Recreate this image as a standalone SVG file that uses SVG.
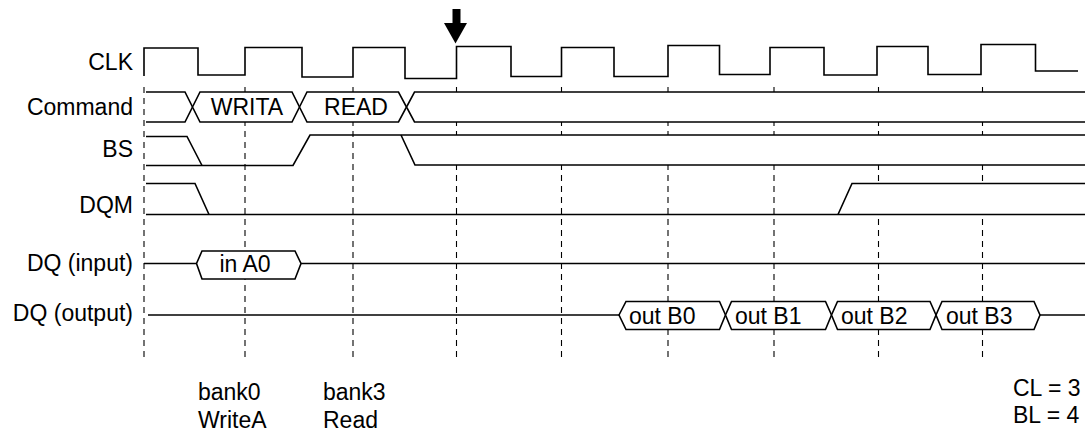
<svg xmlns="http://www.w3.org/2000/svg" width="1085" height="433" viewBox="0 0 1085 433">
  <style>
    .lbl { font-family: "Liberation Sans", Arial, sans-serif; font-size: 23px; fill: #000; }
    .end { text-anchor: end; }
    .mid { text-anchor: middle; }
    .sig { fill: none; stroke: #000; stroke-width: 1.6; stroke-linejoin: miter; }
    .bus { fill: #fff; stroke: #000; stroke-width: 1.6; }
    .fillw { fill: #fff; stroke: none; }
    .grid { stroke: #000; stroke-width: 1.1; stroke-dasharray: 6 5; fill: none; }
  </style>
  <rect width="1085" height="433" fill="#fff"/>

  <g id="connectors">
    <line class="grid" x1="144" y1="87" x2="144" y2="358"/>
    <line class="grid" x1="245" y1="87" x2="245" y2="362"/>
    <line class="grid" x1="353" y1="87" x2="353" y2="358"/>
    <line class="grid" x1="456.5" y1="87" x2="456.5" y2="358"/>
    <line class="grid" x1="561.5" y1="87" x2="561.5" y2="358"/>
    <line class="grid" x1="668" y1="87" x2="668" y2="358"/>
    <line class="grid" x1="774" y1="87" x2="774" y2="358"/>
    <line class="grid" x1="878.5" y1="87" x2="878.5" y2="358"/>
    <line class="grid" x1="982.5" y1="87" x2="982.5" y2="358"/>
  </g>

  <g id="clk">
    <text class="lbl end" x="133" y="70">CLK</text>
    <path class="sig" d="M144,76 V48 H198 V75 H245 V47.5 H302 V77 H353 V47.5 H405 V78.5 H456.5 V46.5 H511 V76.5 H561.5 V47.5 H614 V76.5 H668 V45.5 H719.5 V74.5 H770 V47.5 H824 V75 H877 V46.5 H928 V74.5 H981 V44.5 H1035.5 V71 H1078"/>
    <rect x="452.5" y="9" width="8" height="15" fill="#000"/>
    <polygon points="444,23 467,23 455.5,43.5" fill="#000"/>
  </g>

  <g id="command">
    <text class="lbl end" x="133" y="115">Command</text>
    <polygon class="fillw" points="146,92 185,92 192.5,107 185,122 146,122"/>
    <path class="sig" d="M146,92 H185 L192.5,107 L185,122 H146"/>
    <polygon class="bus" points="192.5,107 200,92 292,92 299.5,107 292,122 200,122"/>
    <polygon class="bus" points="299.5,107 307,92 398.5,92 406.5,107 398.5,122 307,122"/>
    <polygon class="fillw" points="406.5,107 414.5,92 1085,92 1085,122 414.5,122"/>
    <path class="sig" d="M1085,92 H414.5 L406.5,107 L414.5,122 H1085"/>
    <text class="lbl mid" x="247" y="115">WRITA</text>
    <text class="lbl mid" x="356" y="115">READ</text>
  </g>

  <g id="bs">
    <text class="lbl end" x="133" y="157">BS</text>
    <polygon class="fillw" points="146,136.5 187,136.5 202,165.5 146,165.5"/>
    <polygon class="fillw" points="401,135 1085,135 1085,165 415,165"/>
    <path class="sig" d="M146,136.5 H187 L202,165.5"/>
    <path class="sig" d="M146,165.5 H293 L310,135 H1085"/>
    <path class="sig" d="M401,135 L415,165 H1085"/>
  </g>

  <g id="dqm">
    <text class="lbl end" x="133" y="213">DQM</text>
    <polygon class="fillw" points="146,183.5 195,183.5 209,214.5 146,214.5"/>
    <polygon class="fillw" points="838,214.5 852,183.5 1085,183.5 1085,214.5"/>
    <path class="sig" d="M146,183.5 H195 L209,214.5"/>
    <path class="sig" d="M146,214.5 H1085"/>
    <path class="sig" d="M838,214.5 L852,183.5 H1085"/>
  </g>

  <g id="dq-input">
    <text class="lbl end" x="133" y="271">DQ (input)</text>
    <path class="sig" d="M144,263.5 H196.5"/>
    <polygon class="bus" points="196.5,263.5 202,251 295,251 301,263.5 295,279 202,279"/>
    <path class="sig" d="M301,263.5 H1085"/>
    <text class="lbl mid" x="245" y="272">in A0</text>
  </g>

  <g id="dq-output">
    <text class="lbl end" x="133" y="321">DQ (output)</text>
    <path class="sig" d="M148,315 H619"/>
    <polygon class="bus" points="619,315 626,301.5 719.5,301.5 725.5,315 719.5,329.5 626,329.5"/>
    <polygon class="bus" points="725.5,315 731.5,301.5 825.5,301.5 831.5,315 825.5,329.5 731.5,329.5"/>
    <polygon class="bus" points="831.5,315 837.5,301.5 930,301.5 936,315 930,329.5 837.5,329.5"/>
    <polygon class="bus" points="936,315 942,301.5 1034,301.5 1040,315 1034,329.5 942,329.5"/>
    <path class="sig" d="M1040,315 H1085"/>
    <text class="lbl" x="629" y="324">out B0</text>
    <text class="lbl" x="735" y="324">out B1</text>
    <text class="lbl" x="841" y="324">out B2</text>
    <text class="lbl" x="946" y="324">out B3</text>
  </g>

  <g id="notes">
    <text class="lbl" x="198" y="400">bank0</text>
    <text class="lbl" x="198" y="428">WriteA</text>
    <text class="lbl" x="323" y="400">bank3</text>
    <text class="lbl" x="323" y="428">Read</text>
    <text class="lbl" x="1013" y="396">CL = 3</text>
    <text class="lbl" x="1013" y="423">BL = 4</text>
  </g>
</svg>
